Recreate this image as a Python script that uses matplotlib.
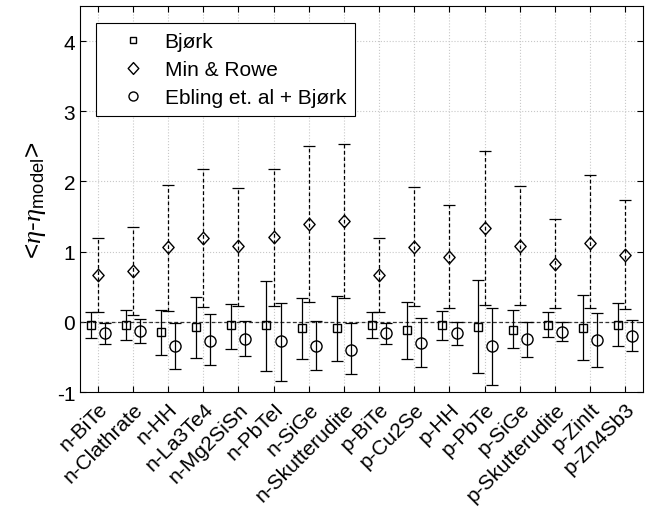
import matplotlib
matplotlib.use("Agg")
import matplotlib.pyplot as plt
import numpy as np
from matplotlib.lines import Line2D
from matplotlib.path import Path

plt.rcParams['font.family'] = ['Liberation Sans', 'DejaVu Sans']
plt.rcParams['mathtext.fontset'] = 'custom'
plt.rcParams['mathtext.rm'] = 'Liberation Sans'
plt.rcParams['mathtext.it'] = 'Liberation Serif:italic'
plt.rcParams['axes.unicode_minus'] = False

# categories
materials = ['n-BiTe', 'n-Clathrate', 'n-HH', 'n-La3Te4', 'n-Mg2SiSn', 'n-PbTeI', 'n-SiGe',
             'n-Skutterudite', 'p-BiTe', 'p-Cu2Se', 'p-HH', 'p-PbTe', 'p-SiGe',
             'p-Skutterudite', 'p-ZinIt', 'p-Zn4Sb3']

# Bjork (squares): mean, lower end, upper end
bjork = [-0.04, -0.04, -0.15, -0.08, -0.05, -0.05, -0.09, -0.09,
         -0.04, -0.12, -0.05, -0.07, -0.11, -0.04, -0.09, -0.04]
bjork_lo = [-0.23, -0.26, -0.47, -0.52, -0.39, -0.70, -0.53, -0.56,
            -0.23, -0.53, -0.26, -0.73, -0.38, -0.22, -0.54, -0.34]
bjork_hi = [0.14, 0.17, 0.17, 0.36, 0.26, 0.58, 0.34, 0.37,
            0.14, 0.28, 0.16, 0.60, 0.17, 0.14, 0.38, 0.27]

# Min & Rowe (diamonds)
minrowe = [0.67, 0.72, 1.06, 1.19, 1.08, 1.21, 1.39, 1.43,
           0.67, 1.06, 0.93, 1.34, 1.08, 0.82, 1.13, 0.95]
minrowe_lo = [0.14, 0.10, 0.15, 0.21, 0.22, 0.23, 0.28, 0.34,
              0.14, 0.22, 0.20, 0.24, 0.24, 0.19, 0.19, 0.18]
minrowe_hi = [1.19, 1.35, 1.95, 2.18, 1.91, 2.18, 2.51, 2.54,
              1.19, 1.92, 1.67, 2.43, 1.93, 1.46, 2.09, 1.73]

# Ebling et. al + Bjork (circles)
ebling = [-0.16, -0.13, -0.34, -0.27, -0.24, -0.28, -0.34, -0.40,
          -0.16, -0.30, -0.16, -0.35, -0.24, -0.14, -0.26, -0.20]
ebling_lo = [-0.31, -0.30, -0.67, -0.62, -0.49, -0.84, -0.68, -0.74,
             -0.31, -0.65, -0.33, -0.90, -0.50, -0.28, -0.64, -0.42]
ebling_hi = [-0.01, 0.04, -0.01, 0.11, 0.01, 0.27, 0.01, -0.01,
             -0.01, 0.06, 0.00, 0.20, 0.00, 0.00, 0.12, 0.02]

x = np.arange(1, len(materials) + 1)

# MATLAB-ish diamond (a bit wider than matplotlib's 'd')
diamond = Path([(0, -1), (0.9, 0), (0, 1), (-0.9, 0), (0, -1)],
               [Path.MOVETO, Path.LINETO, Path.LINETO, Path.LINETO, Path.CLOSEPOLY])

fig = plt.figure(figsize=(6.52, 5.10), dpi=100)
ax = fig.add_axes([0.1227, 0.2294, 0.8635, 0.7569])

def draw(xpos, y, lo, hi, marker, ms, dashed=False, cap=4.5):
    y = np.array(y); lo = np.array(lo); hi = np.array(hi)
    eb = ax.errorbar(xpos, y, yerr=[y - lo, hi - y], fmt='none',
                     ecolor='black', elinewidth=0.9, capsize=cap, capthick=0.9, zorder=3)
    if dashed:
        eb[2][0].set_linestyle((0, (3, 2)))
    ax.plot(xpos, y, ls='none', marker=marker, ms=ms, mfc='none', mec='black',
            mew=1.0, zorder=4)

ax.axhline(0, color='#333333', lw=0.9, ls=(0, (3, 2)), zorder=2)
draw(x - 0.2, bjork, bjork_lo, bjork_hi, 's', 5.5)
draw(x, minrowe, minrowe_lo, minrowe_hi, diamond, 9, dashed=True, cap=4)
draw(x + 0.2, ebling, ebling_lo, ebling_hi, 'o', 8)

ax.set_xlim(0.5, 16.5)
ax.set_ylim(-1, 4.5)
ax.set_xticks(x)
ax.set_xticklabels(materials, rotation=45, ha='right', rotation_mode='anchor')
ax.set_yticks(range(-1, 5))
ax.tick_params(direction='in', top=True, right=True, length=4, labelsize=15, width=0.8)
ax.tick_params(axis='x', pad=5)
ax.grid(True, ls=':', color='#c8c8c8', lw=0.8)
ax.set_axisbelow(True)
for s in ax.spines.values():
    s.set_linewidth(0.8)
ax.set_ylabel(r'<$\eta$-$\eta_{\mathrm{model}}$>', fontsize=19, labelpad=6)

handles = [Line2D([], [], ls='none', marker='s', ms=5, mfc='none', mec='black'),
           Line2D([], [], ls='none', marker=diamond, ms=8.5, mfc='none', mec='black'),
           Line2D([], [], ls='none', marker='o', ms=6.5, mfc='none', mec='black')]
leg = ax.legend(handles, ['Bjørk', 'Min & Rowe', 'Ebling et. al + Bjørk'],
                loc='upper left', bbox_to_anchor=(0.028, 0.956), borderaxespad=0,
                fontsize=15, fancybox=False, framealpha=1, edgecolor='black',
                handlelength=2.7, handletextpad=0.15, labelspacing=0.42, borderpad=0.45)
leg.get_frame().set_linewidth(0.8)

fig.savefig('out.png', dpi=100)
